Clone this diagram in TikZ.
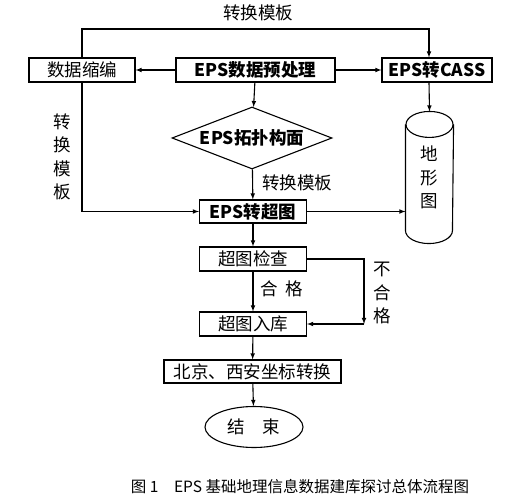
\documentclass[tikz,border=0pt]{standalone}
\usepackage{fontspec}
\setmainfont{Noto Sans CJK SC}
\usetikzlibrary{arrows, shapes.geometric}

\begin{document}
\begin{tikzpicture}[
                > = latex, % arrow head style
                x = 1pt, y = -1pt, % pixel units, y goes down
                line width = 1.1pt % line style
            ]

            \tikzstyle{every node}=[inner sep = 0pt,
            font = \fontsize{17.5}{23.5}\selectfont]
            \tikzstyle{box}=[draw = black, rectangle, minimum height = 24pt]
            \tikzstyle{lbl}=[align = center]

            \useasboundingbox[fill = white] (0,0) rectangle (518,502);

            % top row
            \node (sjsb) [box, minimum width = 106pt] at (82,70) {数据缩编};
            \node (yccl) [box, minimum width = 159pt] at (255.5,70)
            {\bfseries EPS数据预处理}; \node (cass) [box, minimum width =
            110pt] at (437,70) {\bfseries EPS转CASS};

            % middle
            \node (gpgm) [draw = black, diamond, aspect = 2.6, minimum width =
            160pt, minimum height = 62pt] at (252,138) {\bfseries EPS拓扑构面};
            \node (czt) [box, minimum width = 107pt, minimum height = 23pt] at
            (253,211.5) {\bfseries EPS转超图};

            % cylinder
            \node (dxt) [lbl, minimum width = 47pt, minimum height = 131pt] at
            (429.5,177.5) {地\\形\\图};
            \draw ([yshift=-13pt]dxt.north west) -- ([yshift=13pt]dxt.south
            west) arc [start angle = 180, end angle = 360, x radius = 23.5pt,
            y radius = 13pt] -- ([yshift=-13pt]dxt.north east);
            \draw ([yshift=-13pt]dxt.north) ellipse [x radius = 23.5pt,
            y radius = 13pt];

            % bottom column
            \node (jc) [box, minimum width = 107pt] at (253,259) {超图检查};
            \node (rk) [box, minimum width = 107pt] at (253,324) {超图入库};
            \node (zbzh) [box, minimum width = 177pt, minimum height = 23pt] at
            (252.5,371.5) {北京、西安坐标转换}; \node (js) [draw = black,
            ellipse, minimum width = 98pt, minimum height = 41pt] at (254,427)
            {结\quad 束};

            % labels
            \node (l1) at (258,13) {转换模板}; \node (l2) [lbl] at (62,157)
            {转\\换\\模\\板}; \node (l3) at (297,183) {转换模板}; \node (l4) at
            (282,289) {合\ \ 格}; \node (l5) [lbl] at (382,293) {不\\合\\格};
            \node (cap) [font = \fontsize{15.5}{18}\selectfont] at (300,487)
            {图\ 1\quad EPS\ 基础地理信息数据建库探讨总体流程图};

            \coordinate (t1) at (82,29); \coordinate (t2) at (429,29);
            \coordinate (b1) at (364,259); \coordinate (b2) at (364,324);

            \draw[->] (sjsb.north) -- (t1) -- (t2) -- (t2 |- cass.north);
            \path[->] (yccl) edge (sjsb) (yccl) edge (cass);
            \path[->] (yccl) edge (gpgm) (gpgm) edge (czt);
            \draw[->] (sjsb.south) |- (czt.west);
            \draw[->] (cass.south -| t2) -- (dxt.north);
            \draw[->] (czt.east) -- (czt.east -| dxt.west);
            \path[->] (czt) edge (jc) (jc) edge (rk);
            \draw[->] (jc.east) -- (b1) -- (b2); \draw[->] (b2) -- (rk.east);
            \path[->] (rk) edge (zbzh) (zbzh) edge (js);

        \end{tikzpicture}
\end{document}
